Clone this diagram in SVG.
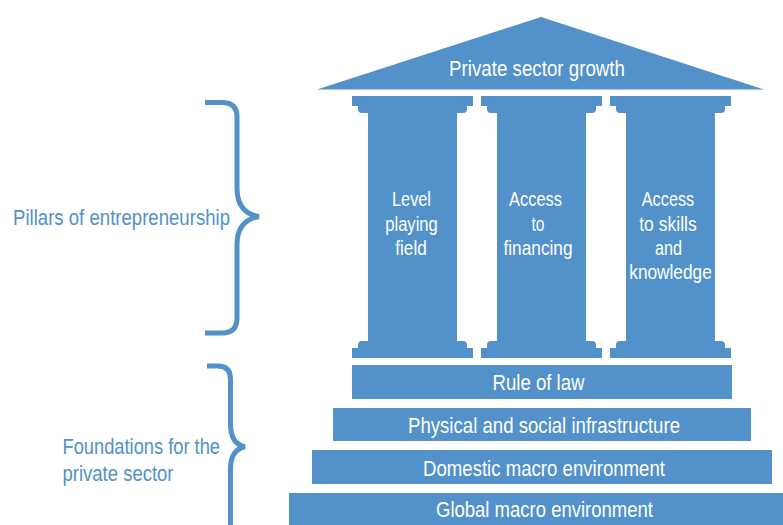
<svg xmlns="http://www.w3.org/2000/svg" width="783" height="525" viewBox="0 0 783 525">
<defs>
<style>
.f{fill:#5291c9}
.t{font-family:"Liberation Sans",Arial,sans-serif;font-size:21.5px;fill:#ffffff;text-anchor:middle}
.lbl{font-family:"Liberation Sans",Arial,sans-serif;font-size:21.5px;fill:#5291c9}
.pt{font-family:"Liberation Sans",Arial,sans-serif;font-size:20.5px;fill:#ffffff;text-anchor:middle}
.br{fill:none;stroke:#5291c9;stroke-width:5;stroke-linecap:butt}
</style>
<g id="pillarShape">
<rect class="f" x="0" y="96" width="121" height="10"/>
<rect class="f" x="6" y="103" width="109" height="10" rx="4"/>
<rect class="f" x="16" y="105" width="89" height="244"/>
<rect class="f" x="6" y="341" width="109" height="10" rx="4"/>
<rect class="f" x="0" y="348" width="121" height="10"/>
</g>
</defs>
<rect width="783" height="525" fill="#ffffff"/>
<g id="roof">
<polygon class="f" points="317,89.5 541,17 764,89.5"/>
<text class="t" x="537" y="76" font-size="22" textLength="176" lengthAdjust="spacingAndGlyphs">Private sector growth</text>
</g>
<g id="pillar1">
<use href="#pillarShape" x="352"/>
<text class="pt" x="411.5" y="206" textLength="39" lengthAdjust="spacingAndGlyphs">Level</text>
<text class="pt" x="411.5" y="230.5" textLength="52.5" lengthAdjust="spacingAndGlyphs">playing</text>
<text class="pt" x="411" y="254.5" textLength="31.5" lengthAdjust="spacingAndGlyphs">field</text>
</g>
<g id="pillar2">
<use href="#pillarShape" x="481"/>
<text class="pt" x="535.5" y="206" textLength="53" lengthAdjust="spacingAndGlyphs">Access</text>
<text class="pt" x="538" y="230.5" textLength="13" lengthAdjust="spacingAndGlyphs">to</text>
<text class="pt" x="538" y="254.5" textLength="69" lengthAdjust="spacingAndGlyphs">financing</text>
</g>
<g id="pillar3">
<use href="#pillarShape" x="610"/>
<text class="pt" x="668" y="206" textLength="52.5" lengthAdjust="spacingAndGlyphs">Access</text>
<text class="pt" x="668" y="230.5" textLength="57.5" lengthAdjust="spacingAndGlyphs">to skills</text>
<text class="pt" x="668.5" y="254.5" textLength="27" lengthAdjust="spacingAndGlyphs">and</text>
<text class="pt" x="670.5" y="279" textLength="82.5" lengthAdjust="spacingAndGlyphs">knowledge</text>
</g>
<g id="rule-of-law">
<rect class="f" x="352" y="365" width="380" height="34"/>
<text class="t" x="538.5" y="390" textLength="92" lengthAdjust="spacingAndGlyphs">Rule of law</text>
</g>
<g id="infrastructure">
<rect class="f" x="333" y="408" width="418" height="33"/>
<text class="t" x="544" y="433" textLength="272" lengthAdjust="spacingAndGlyphs">Physical and social infrastructure</text>
</g>
<g id="domestic">
<rect class="f" x="312" y="450" width="460" height="34"/>
<text class="t" x="544" y="476" textLength="242" lengthAdjust="spacingAndGlyphs">Domestic macro environment</text>
</g>
<g id="global">
<rect class="f" x="289" y="493" width="500" height="35"/>
<text class="t" x="544.5" y="517" textLength="217" lengthAdjust="spacingAndGlyphs">Global macro environment</text>
</g>
<g id="connectors">
<path class="br" d="M205,102.5 H222 Q237,102.5 237,117 V188 Q237,213 259,216.7 Q237,220 237,245 V318 Q237,333 222,333 H205"/>
<path class="br" d="M207,366 H218 Q230.5,366 230.5,379 V424 Q230.5,444 245,446.7 Q230.5,449.5 230.5,469 V530"/>
</g>
<g id="label-pillars">
<text class="lbl" x="13" y="224.5" textLength="217" lengthAdjust="spacingAndGlyphs">Pillars of entrepreneurship</text>
</g>
<g id="label-foundations">
<text class="lbl" x="62.5" y="453.5" textLength="157.5" lengthAdjust="spacingAndGlyphs">Foundations for the</text>
<text class="lbl" x="62.5" y="481" textLength="111" lengthAdjust="spacingAndGlyphs">private sector</text>
</g>
</svg>
